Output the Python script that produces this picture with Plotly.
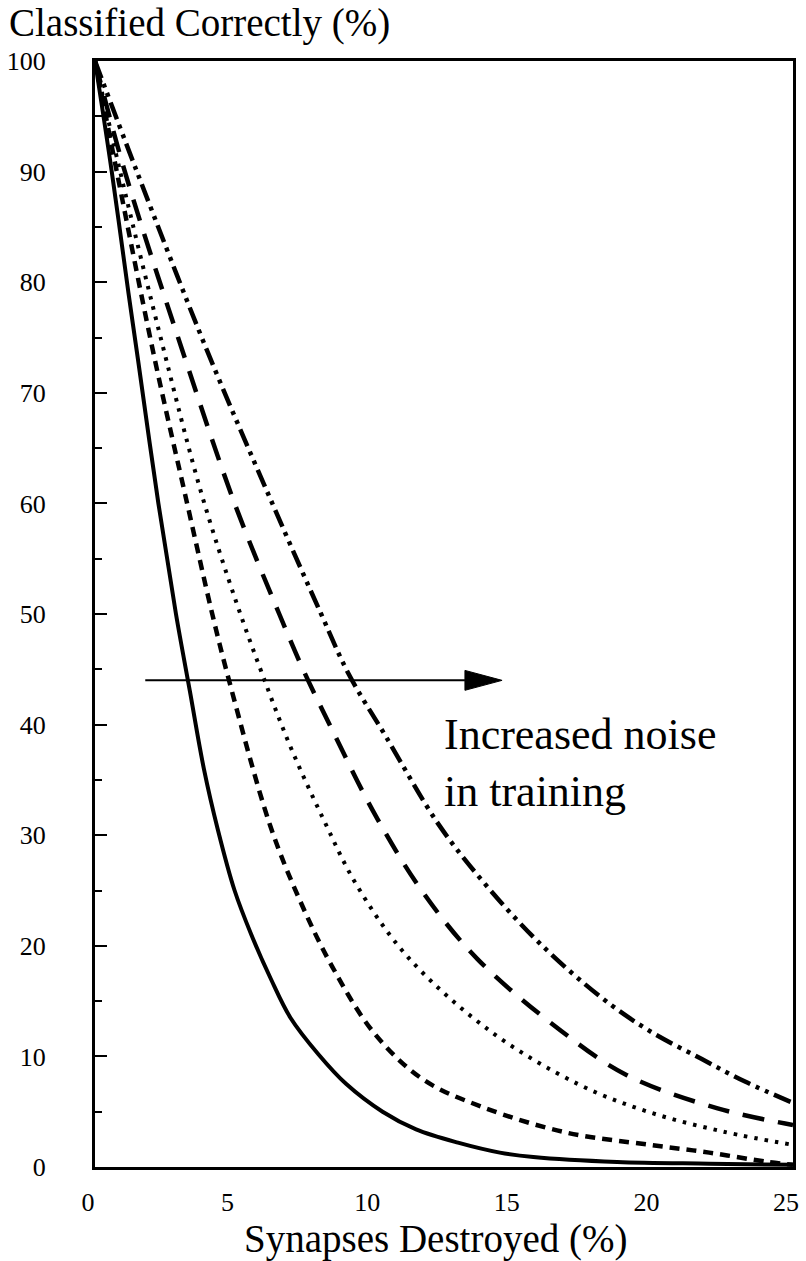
import plotly.graph_objects as go

# Data (x: % synapses destroyed, y: % classified correctly)
x_solid = [0, 0.6, 1.2, 1.54, 2.27, 2.9, 3.4, 3.9, 4.4, 5.0, 5.6, 6.3, 7.0, 8.0, 9.0, 10.3, 11.5, 13.0, 14.5, 15.7, 18.7, 22.0, 25.0]
y_solid = [100, 90, 79, 73, 60, 50, 43, 36, 30.5, 25, 21, 17, 13.5, 10.2, 7.5, 5.0, 3.4, 2.2, 1.3, 0.9, 0.45, 0.3, 0.2]

x_short = [0, 0.78, 2.1, 3.3, 4.2, 4.8, 6.27, 7.34, 8.5, 10.0, 11.76, 13.9, 16.9, 19.9, 22.0, 24.0, 25.0]
y_short = [100, 90, 73.5, 60, 50, 44, 30.9, 24.1, 18.1, 12.1, 7.9, 5.4, 3.1, 2.0, 1.3, 0.5, 0.2]

x_dot = [0, 0.9, 2.45, 3.8, 5.07, 6.0, 7.0, 8.17, 9.37, 11.2, 14.15, 17.3, 19.8, 22.5, 25.0]
y_dot = [100, 90, 74, 61, 51, 44.5, 38, 31.5, 25.5, 19, 12.3, 7.5, 5.0, 3.2, 2.0]

x_long = [0, 1.07, 3.12, 5.0, 6.6, 7.45, 8.5, 10.0, 11.7, 13.7, 16.7, 19.05, 22.3, 25.0]
y_long = [100, 90, 73.9, 60, 50, 45, 39.5, 32, 25, 18.8, 12.3, 8.3, 5.3, 3.8]

x_dd = [0, 1.5, 4.0, 6.35, 8.1, 9.1, 10.4, 12.3, 14.0, 15.94, 18.1, 19.8, 21.7, 23.3, 25.0]
y_dd = [100, 90, 73.9, 60, 50, 44.5, 39, 31, 25.5, 20.2, 15.4, 12.4, 9.8, 7.7, 5.8]

x_ticks = [0, 5, 10, 15, 20, 25]
y_ticks = [0, 10, 20, 30, 40, 50, 60, 70, 80, 90, 100]

# Annotation arrow (data units)
arrow_y = 44
arrow_x0 = 1.8
arrow_tip = 14.58
head_len = 1.33
head_half = 0.9

FONT = "Liberation Serif"

fig = go.Figure()
series = [
    (x_solid, y_solid, "solid", 4),
    (x_short, y_short, "10px,7px", 4.5),
    (x_dot, y_dot, "3.5px,7px", 4),
    (x_long, y_long, "22px,14px", 4.5),
    (x_dd, y_dd, "18px,6px,4px,6px,4px,6px", 4.5),
]
for xs, ys, dash, w in series:
    fig.add_trace(go.Scatter(x=xs, y=ys, mode="lines",
                             line=dict(color="black", width=w, dash=dash, shape="spline", smoothing=1.0),
                             showlegend=False, hoverinfo="skip", cliponaxis=True))

# arrow shaft
fig.add_trace(go.Scatter(x=[arrow_x0, arrow_tip - head_len], y=[arrow_y, arrow_y], mode="lines",
                         line=dict(color="black", width=2), showlegend=False, hoverinfo="skip"))
# arrow head
fig.add_trace(go.Scatter(x=[arrow_tip - head_len, arrow_tip, arrow_tip - head_len, arrow_tip - head_len],
                         y=[arrow_y + head_half, arrow_y, arrow_y - head_half, arrow_y + head_half],
                         mode="lines", fill="toself", fillcolor="black",
                         line=dict(color="black", width=1), showlegend=False, hoverinfo="skip"))

fig.add_annotation(x=12.44, y=36.5, xref="x", yref="y", xanchor="left", yanchor="middle",
                   text="Increased noise<br>in training", showarrow=False, align="left",
                   font=dict(family=FONT, size=44, color="black"))

# y-axis title placed at the top-left like the original
fig.add_annotation(x=-88 / 698, y=1.0 + 38 / 1106, xref="paper", yref="paper",
                   xanchor="left", yanchor="middle", showarrow=False,
                   text="Classified Correctly (%)",
                   font=dict(family=FONT, size=39, color="black"))

# x-axis title (slightly left of the plot centre, as in the original)
fig.add_annotation(x=(435 - 95) / 698, y=-(1239 - 1167) / 1106, xref="paper", yref="paper",
                   xanchor="center", yanchor="middle", showarrow=False,
                   text="Synapses Destroyed (%)",
                   font=dict(family=FONT, size=39, color="black"))

fig.update_layout(
    width=806, height=1261,
    margin=dict(l=95, r=13, t=61, b=94, autoexpand=False),
    paper_bgcolor="white", plot_bgcolor="white",
    font=dict(family=FONT, color="black"),
)
fig.update_xaxes(range=[0, 25], tickvals=x_ticks, ticktext=[str(v) for v in x_ticks],
                 ticks="", ticklabelstandoff=10, ticklabelshift=-7, showgrid=False, zeroline=False,
                 showline=True, linecolor="black", linewidth=3, mirror=True, automargin=False,
                 tickfont=dict(family=FONT, size=26, color="black"))
fig.update_yaxes(range=[0, 100], tickvals=y_ticks, ticktext=[str(v) for v in y_ticks],
                 ticks="inside", ticklen=12, tickwidth=2, tickcolor="black",
                 minor=dict(dtick=5, ticks="inside", ticklen=7, tickwidth=2, tickcolor="black", showgrid=False),
                 ticklabelstandoff=41, showgrid=False, zeroline=False, automargin=False,
                 showline=True, linecolor="black", linewidth=3, mirror=True,
                 tickfont=dict(family=FONT, size=26, color="black"))

fig.write_html("out.html", config={"displayModeBar": False},
               post_script="document.body.style.margin='0';document.body.style.padding='0';")
